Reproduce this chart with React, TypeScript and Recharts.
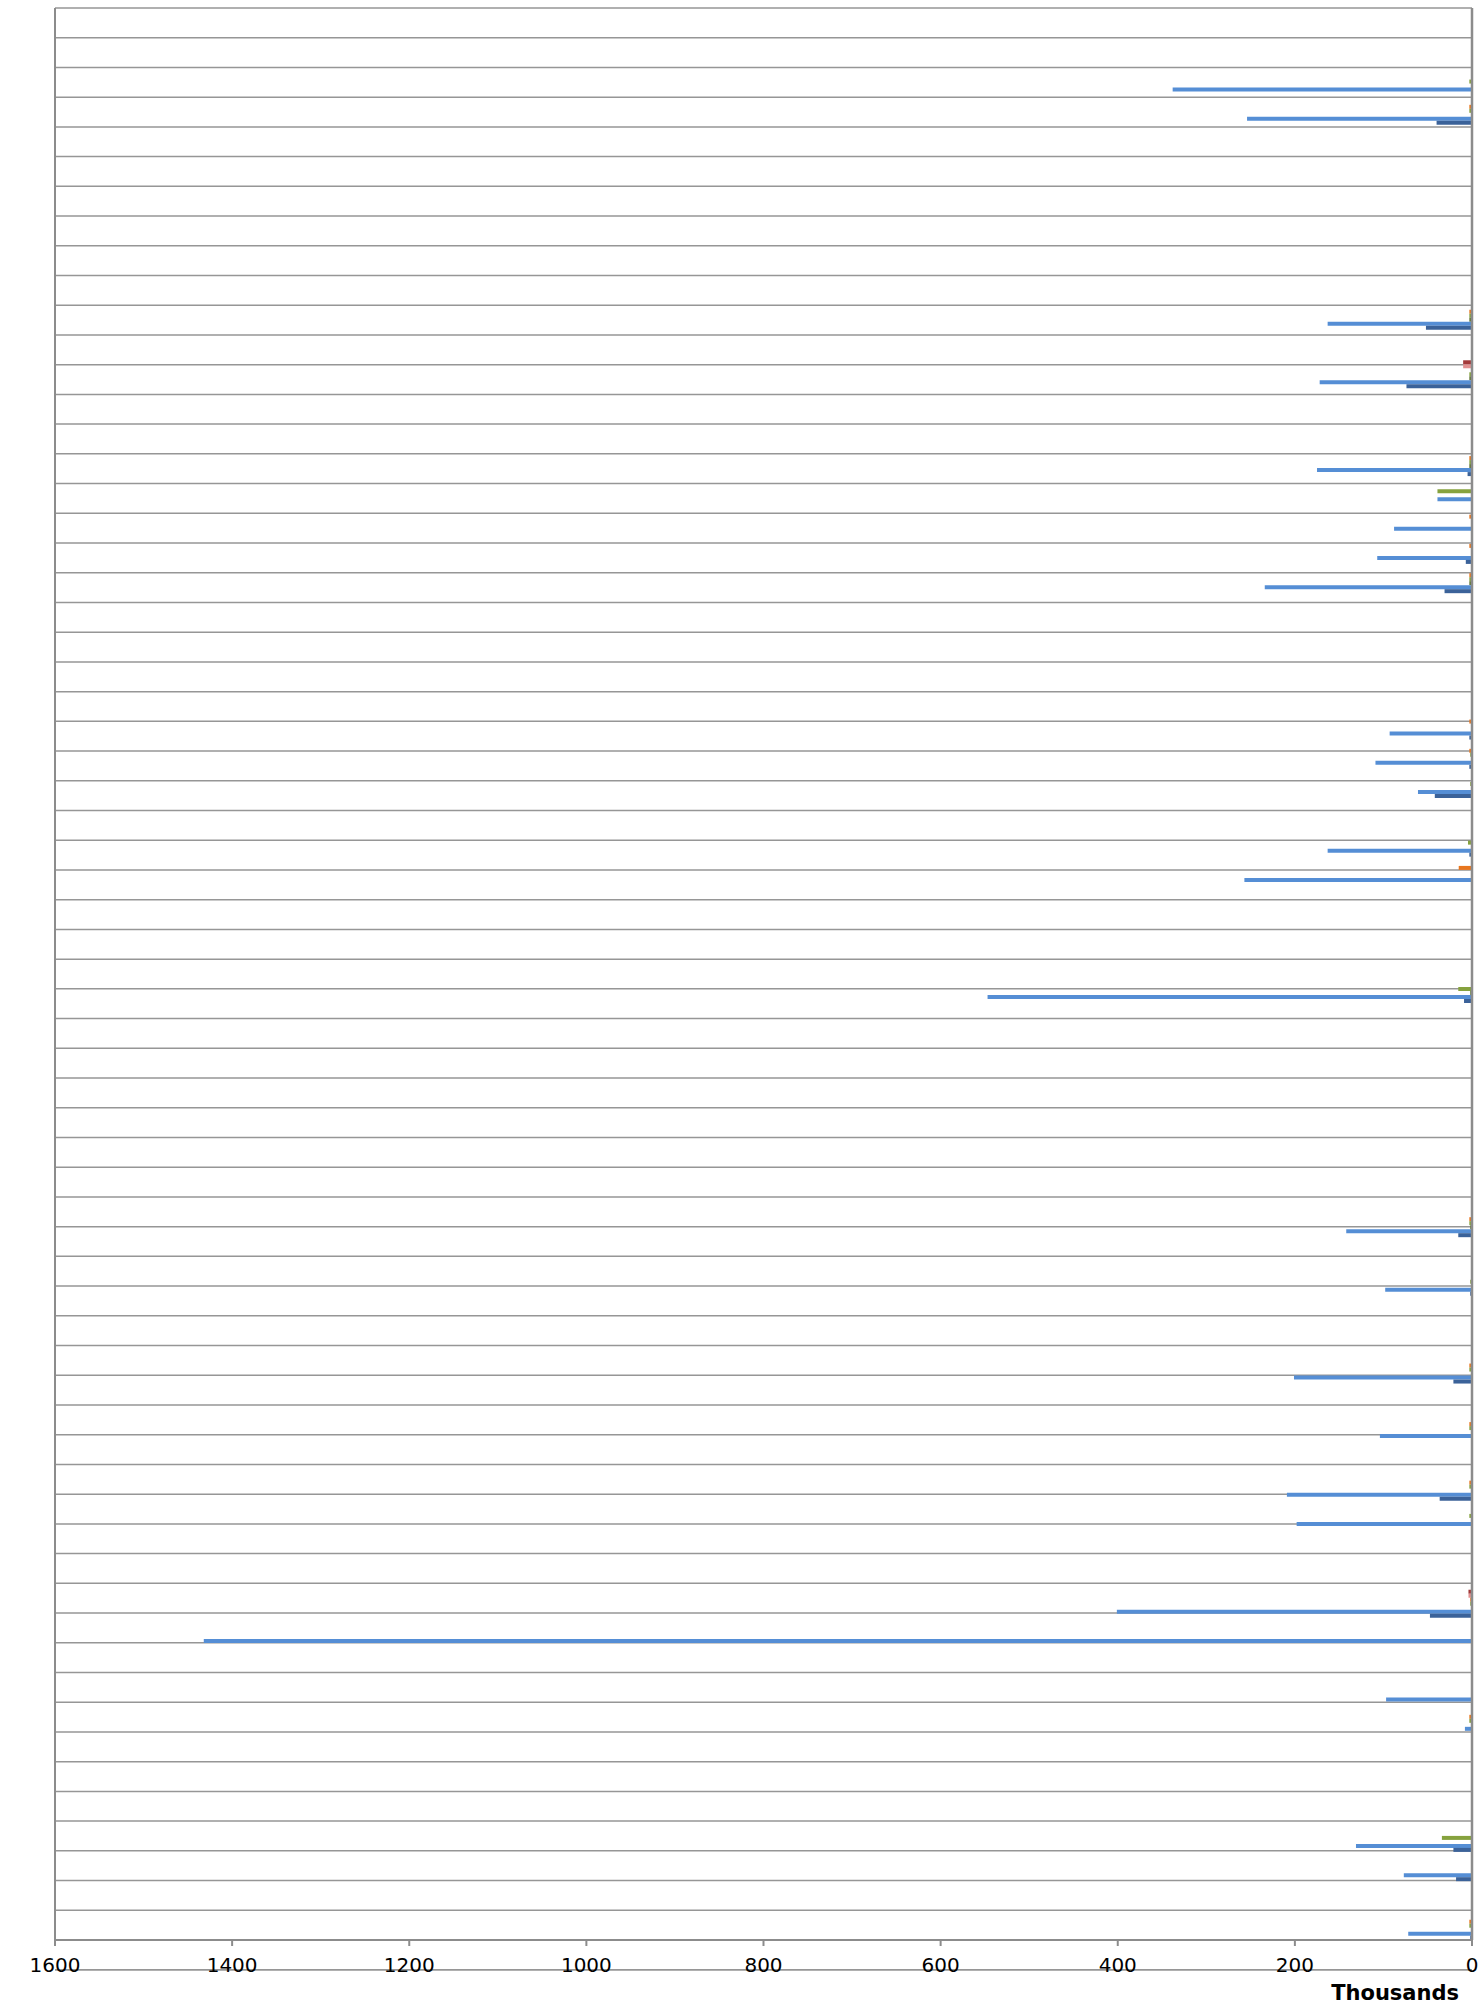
import React from 'react';
import { BarChart, Bar, XAxis, YAxis, CartesianGrid, ReferenceLine } from 'recharts';

// values in thousands, one entry per row (top row first)
const redVals = [
  0, 0, 0, 0, 0, 0, 0, 0, 0, 0, 0,
  0, 10, 0, 0, 0, 0, 0, 0, 0, 0, 0,
  0, 0, 0, 0, 0, 0, 0, 0, 0, 0, 0,
  0, 0, 0, 0, 0, 0, 0, 0, 0, 0, 0,
  0, 0, 0, 0, 0, 0, 0, 0, 0, 0, 4,
  0, 0, 0, 0, 0, 0, 0, 0, 0, 0, 0,
];
const pinkVals = [
  0, 0, 0, 0, 0, 0, 0, 0, 0, 0, 0,
  0, 10, 0, 0, 0, 0, 0, 0, 0, 0, 0,
  0, 0, 0, 0, 0, 0, 0, 0, 0, 0, 0,
  0, 0, 0, 0, 0, 0, 0, 0, 0, 0, 0,
  0, 0, 0, 0, 0, 0, 0, 0, 0, 0, 4,
  0, 0, 0, 0, 0, 0, 0, 0, 0, 0, 0,
];
const orangeVals = [
  0, 0, 0, 3, 0, 0, 0, 0, 0, 0, 3,
  0, 0, 0, 0, 3, 0, 3, 3, 3, 0, 0,
  0, 0, 3, 3, 0, 0, 0, 15, 0, 0, 0,
  0, 0, 0, 0, 0, 0, 0, 0, 3, 0, 0,
  0, 0, 3, 0, 3, 0, 3, 0, 0, 0, 2,
  0, 0, 0, 3, 0, 0, 0, 0, 0, 0, 3,
];
const greenVals = [
  0, 0, 3, 3, 0, 0, 0, 0, 0, 0, 3,
  0, 3, 0, 0, 3, 39, 0, 0, 3, 0, 0,
  0, 0, 0, 2, 2, 0, 4.5, 0, 0, 0, 0,
  15.5, 0, 0, 0, 0, 0, 0, 0, 3, 0, 2,
  0, 0, 3, 0, 3, 0, 3, 3, 0, 0, 2,
  0, 0, 0, 3, 0, 0, 0, 34, 0, 0, 3,
];
const oliveVals = [
  0, 0, 0, 0, 0, 0, 0, 0, 0, 0, 3,
  0, 3, 0, 0, 3, 0, 0, 0, 3, 0, 0,
  0, 0, 0, 0, 0, 0, 0, 0, 0, 0, 0,
  2, 0, 0, 0, 0, 0, 0, 0, 2, 0, 0,
  0, 0, 0, 0, 0, 0, 0, 0, 0, 0, 0,
  0, 0, 0, 0, 0, 0, 0, 0, 0, 0, 0,
];
const blueVals = [
  0, 0, 338, 254, 0, 0, 0, 0, 0, 0, 163,
  0, 172, 0, 0, 175, 39, 88, 107, 234, 0, 0,
  0, 0, 93, 109, 61, 0, 163, 257, 0, 0, 0,
  547, 0, 0, 0, 0, 0, 0, 0, 142, 0, 98,
  0, 0, 201, 0, 104, 0, 209, 198, 0, 0, 401,
  1432, 0, 97, 8, 0, 0, 0, 131, 77, 0, 72,
];
const navyVals = [
  0, 0, 0, 40, 0, 0, 0, 0, 0, 0, 52,
  0, 74, 0, 0, 5, 0, 0, 7, 31, 0, 0,
  0, 0, 3, 3, 42, 0, 3, 0, 0, 0, 0,
  9, 0, 0, 0, 0, 0, 0, 0, 15.5, 0, 2,
  0, 0, 21, 0, 0, 0, 36.5, 0, 0, 0, 47.5,
  0, 0, 0, 0, 0, 0, 0, 21, 18, 0, 2,
];

const xTicks = [0, 200, 400, 600, 800, 1000, 1200, 1400, 1600];

const rowIds = blueVals.map((_, i) => `row${i + 1}`);
const gridTicks = [...rowIds.map((_, i) => i), rowIds.length];

const data = rowIds.map((id, i) => ({
  id,
  red: redVals[i],
  pink: pinkVals[i],
  orange: orangeVals[i],
  green: greenVals[i],
  olive: oliveVals[i],
  blue: blueVals[i],
  navy: navyVals[i],
}));

// top-to-bottom order inside each row
const series = [
  { key: 'red', color: '#A33A3A' },
  { key: 'pink', color: '#E29090' },
  { key: 'orange', color: '#E8761E' },
  { key: 'green', color: '#86A23E' },
  { key: 'olive', color: '#5E7430' },
  { key: 'blue', color: '#558ED5' },
  { key: 'navy', color: '#3B6299' },
];

const GRID = '#969696';

export default function App() {
  return (
    <div style={{ position: 'absolute', left: 0, top: 0, width: 1483, height: 2005, fontFamily: 'DejaVu Sans' }}>
      <BarChart
        width={1483}
        height={2005}
        data={data}
        layout="vertical"
        margin={{ top: 8, right: 11, bottom: 0, left: 55 }}
        barSize={4}
        barGap={0}
      >
        <CartesianGrid yAxisId="grid" horizontal vertical={false} horizontalValues={gridTicks} stroke={GRID} strokeWidth={1.5} />
        <XAxis
          type="number"
          domain={[0, 1600]}
          ticks={xTicks}
          reversed
          height={65}
          stroke="#8c8c8c"
          strokeWidth={2}
          tickSize={6}
          tickMargin={12}
          tick={{ fontSize: 20, fill: '#000', fontFamily: 'DejaVu Sans' }}
        />
        <YAxis type="category" dataKey="id" hide />
        <YAxis yAxisId="grid" type="number" domain={[0, rowIds.length]} ticks={gridTicks} allowDataOverflow hide />
        {/* plot border lines at both ends of the row axis */}
        <ReferenceLine yAxisId="grid" y={0} stroke={GRID} strokeWidth={1.5} ifOverflow="visible" />
        <ReferenceLine yAxisId="grid" y={rowIds.length} stroke={GRID} strokeWidth={1.5} ifOverflow="visible" />
        <ReferenceLine x={1600} stroke="#8c8c8c" strokeWidth={2} />
        <ReferenceLine x={0} stroke="#8c8c8c" strokeWidth={2.5} />
        {series.map((s) => (
          <Bar key={s.key} dataKey={s.key} fill={s.color} isAnimationActive={false} />
        ))}
      </BarChart>
      <div
        style={{
          position: 'absolute',
          right: 1483 - 1459,
          top: 1981,
          fontSize: 21,
          fontWeight: 'bold',
          fontFamily: 'DejaVu Sans',
          color: '#000',
        }}
      >
        Thousands
      </div>
    </div>
  );
}
